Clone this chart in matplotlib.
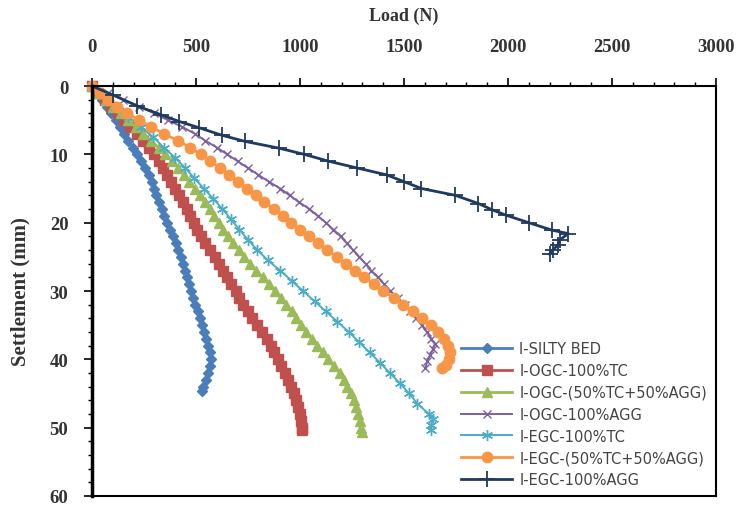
import matplotlib
matplotlib.use('Agg')
import matplotlib.pyplot as plt
from matplotlib.ticker import MultipleLocator

matplotlib.rc('font', family=['Liberation Serif', 'DejaVu Serif'])

# load (N) and settlement (mm), one pair of lists per series
silty_load = [0, 23, 47, 70, 93, 115, 135, 155, 175, 195, 215, 235, 255, 272, 287, 300, 310,
              322, 335, 348, 362, 375, 388, 402, 415, 427, 437, 447, 457, 467, 477, 487, 497,
              508, 519, 530, 540, 550, 560, 566, 571, 568, 560, 548, 536, 528]
silty_set = [0, 1, 2, 3, 4, 5, 6, 7, 8, 9, 10, 11, 12, 13, 14, 15, 16,
             17, 18, 19, 20, 21, 22, 23, 24, 25, 26, 27, 28, 29, 30, 31, 32,
             33, 34, 35, 36, 37, 38, 39, 40, 41, 42, 43, 44, 44.7]

ogc_tc_load = [0, 30, 61, 92, 124, 155, 185, 215, 244, 272, 297, 320, 340, 360, 380, 400, 419,
               437, 455, 472, 488, 505, 522, 543, 568, 590, 611, 632, 651, 670, 690, 709, 728,
               748, 771, 794, 818, 840, 859, 876, 893, 911, 928, 943, 957, 970, 982, 992,
               1000, 1006, 1011, 1012]
ogc_tc_set = [0, 1, 2, 3, 4, 5, 6, 7, 8, 9, 10, 11, 12, 13, 14, 15, 16,
              17, 18, 19, 20, 21, 22, 23, 24, 25, 26, 27, 28, 29, 30, 31, 32,
              33, 34, 35, 36, 37, 38, 39, 40, 41, 42, 43, 44, 45, 46, 47,
              48, 49, 50, 50.4]

ogc_mix_load = [0, 33, 67, 100, 137, 173, 210, 247, 283, 320, 353, 385, 415, 442, 468, 495, 518,
                542, 565, 587, 609, 630, 653, 678, 705, 732, 760, 790, 820, 850, 880, 907, 933,
                960, 983, 1007, 1030, 1057, 1083, 1110, 1137, 1163, 1190, 1210, 1228, 1245,
                1258, 1270, 1280, 1288, 1295, 1298]
ogc_mix_set = [0, 1, 2, 3, 4, 5, 6, 7, 8, 9, 10, 11, 12, 13, 14, 15, 16,
               17, 18, 19, 20, 21, 22, 23, 24, 25, 26, 27, 28, 29, 30, 31, 32,
               33, 34, 35, 36, 37, 38, 39, 40, 41, 42, 43, 44, 45,
               46, 47, 48, 49, 50, 50.6]

ogc_agg_load = [0, 75, 150, 225, 300, 365, 435, 495, 545, 600, 650, 700, 750, 800, 850, 905,
                950, 995, 1045, 1085, 1125, 1160, 1195, 1225, 1255, 1285, 1315, 1342, 1375,
                1405, 1435, 1470, 1505, 1530, 1557, 1585, 1610, 1632, 1648, 1640, 1625, 1612, 1603]
ogc_agg_set = [0, 1, 2, 3, 4, 5, 6, 7, 8, 9, 10, 11, 12, 13, 14, 15,
               16, 17, 18, 19, 20, 21, 22, 23, 24, 25, 26, 27, 28,
               29, 30, 31, 32, 33, 34, 35, 36, 37, 37.7, 38.5, 39.4, 40.3, 41.3]

egc_tc_load = [0, 55, 115, 175, 235, 295, 345, 400, 448, 492, 538, 583, 627, 668, 708, 750,
               795, 845, 905, 960, 1015, 1070, 1125, 1180, 1235, 1285, 1335, 1385, 1432,
               1480, 1525, 1565, 1620, 1640, 1630, 1628]
egc_tc_set = [0, 1.5, 3, 4.5, 6, 7.5, 9, 10.5, 12, 13.5, 15, 16.5, 18, 19.5, 21, 22.5,
              24, 25.5, 27, 28.5, 30, 31.5, 33, 34.5, 36, 37.5, 39, 40.5, 42,
              43.5, 45, 46.5, 48, 48.8, 49.6, 50.3]

egc_mix_load = [0, 37, 78, 122, 170, 226, 285, 347, 413, 473, 523, 569, 615, 659, 703, 745, 787,
                828, 875, 917, 958, 1000, 1043, 1088, 1130, 1176, 1222, 1265, 1308, 1354, 1400,
                1450, 1497, 1543, 1587, 1628, 1665, 1694, 1713, 1721, 1715, 1700, 1685]
egc_mix_set = [0, 1, 2, 3, 4, 5, 6, 7, 8, 9, 10, 11, 12, 13, 14, 15, 16,
               17, 18, 19, 20, 21, 22, 23, 24, 25, 26, 27, 28, 29, 30,
               31, 32, 33, 34, 35, 36, 37, 38, 39, 40, 40.8, 41.3]

egc_agg_load = [0, 100, 216, 331, 420, 514, 624, 735, 900, 1020, 1137, 1275, 1416, 1500, 1584,
                1747, 1858, 1923, 1990, 2100, 2212, 2290, 2250, 2240, 2215, 2200]
egc_agg_set = [0, 1.3, 2.9, 4.2, 5.2, 6.1, 7.2, 8.1, 9.1, 10.0, 11.0, 12.0, 13.0, 14.0, 15.0,
               16.0, 17.2, 18.1, 18.9, 20.0, 21.1, 21.6, 22.5, 23.3, 24.0, 24.6]

labels = ['I-SILTY BED', 'I-OGC-100%TC', 'I-OGC-(50%TC+50%AGG)', 'I-OGC-100%AGG',
          'I-EGC-100%TC', 'I-EGC-(50%TC+50%AGG)', 'I-EGC-100%AGG']

series = [(silty_load, silty_set), (ogc_tc_load, ogc_tc_set), (ogc_mix_load, ogc_mix_set),
          (ogc_agg_load, ogc_agg_set), (egc_tc_load, egc_tc_set), (egc_mix_load, egc_mix_set),
          (egc_agg_load, egc_agg_set)]

#colour, marker, markersize, linewidth, marker edge width
styles = [('#4A7EBB', 'D', 5.5, 2.0, 1.0),
          ('#C0504D', 's', 6.5, 2.0, 1.0),
          ('#9BBB59', '^', 6.5, 2.0, 1.0),
          ('#7D60A0', 'x', 6, 1.4, 1.0),
          ('#4BACC6', (6, 2, 0), 8, 1.4, 1.0),
          ('#F79646', 'o', 7.5, 2.0, 1.0),
          ('#1F3A60', '+', 11, 2.0, 1.3)]

fig = plt.figure(figsize=(7.45, 5.10), dpi=100)
ax = fig.add_axes([0.1235, 0.0255, 0.8375, 0.8039])

for (x, y), lab, (c, m, ms, lw, mew) in zip(series, labels, styles):
    ax.plot(x, y, color=c, marker=m, markersize=ms, linewidth=lw, markeredgewidth=mew,
            markeredgecolor=c, label=lab, clip_on=False)

ax.set_xlim(0, 3000)
ax.set_ylim(60, 0)
ax.xaxis.set_major_locator(MultipleLocator(500))
ax.xaxis.set_minor_locator(MultipleLocator(100))
ax.yaxis.set_major_locator(MultipleLocator(10))
ax.yaxis.set_minor_locator(MultipleLocator(2))
ax.xaxis.tick_top()
ax.xaxis.set_label_position('top')
ax.tick_params(axis='x', which='major', direction='out', length=6, width=1.2, pad=16,
               labelsize=13.5)
ax.tick_params(axis='x', which='minor', direction='out', length=3, width=1.0)
ax.tick_params(axis='y', which='major', direction='out', length=6, width=1.2, pad=11,
               labelsize=13.5)
ax.tick_params(axis='y', which='minor', direction='out', length=3, width=1.0)
for lab in ax.get_xticklabels() + ax.get_yticklabels():
    lab.set_fontweight('bold')
    lab.set_color('#333333')

for side in ['top', 'right', 'bottom']:
    ax.spines[side].set_linewidth(1.5)
ax.spines['left'].set_linewidth(2.5)

ax.set_xlabel('Load (N)', fontsize=13, fontweight='bold', color='#333333', labelpad=13)
ax.set_ylabel('Settlement (mm)', fontsize=15, fontweight='bold', color='#333333', labelpad=14)

leg = ax.legend(loc='lower right', bbox_to_anchor=(1.0, 0.0), frameon=False,
                prop={'family': ['DejaVu Sans'], 'size': 10.5},
                handlelength=3.5, labelspacing=0.47, handletextpad=0.5, borderaxespad=0.2)
for t in leg.get_texts():
    t.set_color('#444444')

fig.savefig('out.png', dpi=100)
